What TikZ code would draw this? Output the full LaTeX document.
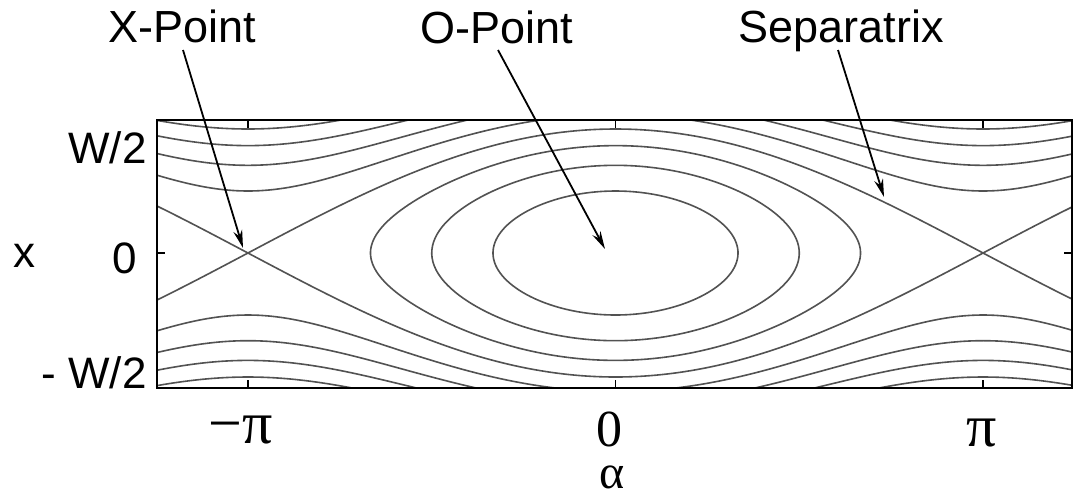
\documentclass[tikz,border=0pt]{standalone}
\usepackage{fontspec}
\setmainfont{Liberation Sans}
\newfontfamily\serifgr{Liberation Serif}
\usetikzlibrary{arrows.meta}
\begin{document}
\begin{tikzpicture}[x=0.5pt,y=-0.5pt,
  curve/.style={black!68, line width=0.8pt},
  frame/.style={black, line width=1.1pt},
  tick/.style={black, line width=0.6pt},
  arr/.style={black, line width=0.9pt, -{Stealth[length=9pt,width=4.5pt]}},
  lab/.style={font=\fontsize{22.5}{27}\selectfont, inner sep=0pt, anchor=base},
  ylab/.style={font=\fontsize{22}{26}\selectfont, inner sep=0pt, anchor=base east},
  glab/.style={font=\serifgr\fontsize{30}{34}\selectfont, inner sep=0pt, anchor=base, text depth=0pt},
  nlab/.style={font=\serifgr\fontsize{26}{30}\selectfont, inner sep=0pt, anchor=base, text depth=0pt}
]
\useasboundingbox (0,0) rectangle (1074,499);
\fill[white] (0,0) rectangle (1074,499);
\begin{scope}
  \clip (157,120) rectangle (1072,388);
  % closed orbits inside island
  \foreach \h in {0.25,0.5,0.75} {
    \draw[curve] plot[variable=\t, domain=0:360, samples=140, smooth]
      ({615.5+4.0841*asin(sqrt(\h)*sin(\t))}, {253-124*sqrt(\h)*cos(\t)}) -- cycle;
  }
  % separatrix
  \draw[curve] plot[domain=157:1072, samples=160, smooth] (\x, {253-124*cos((\x-615.5)*0.244854)});
  \draw[curve] plot[domain=157:1072, samples=160, smooth] (\x, {253+124*cos((\x-615.5)*0.244854)});
  % open orbits
  \foreach \h in {1.25,1.5,1.75,2} {
    \draw[curve] plot[domain=157:1072, samples=140, smooth] (\x, {253-124*sqrt(\h-(sin((\x-615.5)*0.244854))^2)});
    \draw[curve] plot[domain=157:1072, samples=140, smooth] (\x, {253+124*sqrt(\h-(sin((\x-615.5)*0.244854))^2)});
  }
\end{scope}
% ticks
\foreach \tx in {248,615.5,983} {
  \draw[tick] (\tx,120) -- (\tx,128);
  \draw[tick] (\tx,388) -- (\tx,380);
}
\draw[tick] (157,253) -- (165,253);
\draw[tick] (1072,253) -- (1064,253);
% frame
\draw[frame] (157,120) rectangle (1072,388);
% labels
\node[lab] (xlab) at (182,42) {X-Point};
\node[lab] (olab) at (497,43) {O-Point};
\node[lab] (slab) at (841,42) {Separatrix};
\node[ylab] (yw) at (147,163) {W/2};
\node[ylab] (y0) at (137,273) {0};
\node[ylab] (ymw) at (147,388) {- W/2};
\node[lab, font=\fontsize{22}{26}\selectfont] (xax) at (24.5,267) {x};
\node[glab] (mpi) at (241,443) {−π};
\node[nlab] (z0) at (609,446) {0};
\node[glab] (ppi) at (982,446) {π};
\node[glab, font=\serifgr\fontsize{24}{28}\selectfont, text height=0.47em] (alp) at (612,488) {α};
% arrows
\coordinate (xs) at (183,50);
\coordinate (xe) at (243,248);
\coordinate (os) at (498,50);
\coordinate (oe) at (605,249);
\coordinate (ss) at (838,50);
\coordinate (se) at (884,197);
\draw[arr] (xs) -- (xe);
\draw[arr] (os) -- (oe);
\draw[arr] (ss) -- (se);
\end{tikzpicture}
\end{document}
